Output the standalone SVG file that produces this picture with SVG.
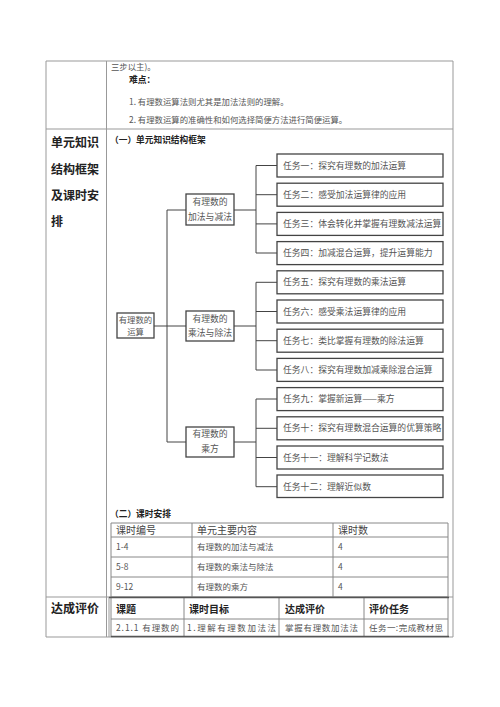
<svg xmlns="http://www.w3.org/2000/svg" width="500" height="707" viewBox="0 0 500 707">
<style>
text{font-family:"Noto Sans CJK SC","Noto Sans",sans-serif;}
.b{fill:#555;font-size:8.4px;}
.h{fill:#222;font-size:8.7px;font-weight:bold;}
.L{fill:#222;font-size:12px;font-weight:bold;}
.t{fill:#555;font-size:8.8px;}
.c{fill:#555;font-size:8.8px;text-anchor:middle;}
.th{fill:#444;font-size:10px;}
.tr{fill:#555;font-size:8.5px;}
.bh{fill:#222;font-size:10px;font-weight:bold;}
.g{stroke:#999;stroke-width:1;fill:none;}
.k{stroke:#888;stroke-width:1;fill:none;}
.box{fill:#fff;stroke:#444;stroke-width:1.3;}
.cn{stroke:#444;stroke-width:1;fill:none;}
</style>
<rect width="500" height="707" fill="#fff"/>
<g id="outer-table">
<path class="g" d="M46,61H453V637H46Z M106.5,61V637 M46,129H453 M46,597H453 M109,597V637"/>
</g>
<g id="top-text">
<text class="b" x="111" y="70">三步以主)。</text>
<text class="h" x="129" y="83">难点：</text>
<text class="b" x="129" y="105">1. 有理数运算法则尤其是加法法则的理解。</text>
<text class="b" x="129" y="123">2. 有理数运算的准确性和如何选择简便方法进行简便运算。</text>
</g>
<g id="left-labels">
<text class="L" x="51" y="147">单元知识</text>
<text class="L" x="51" y="174">结构框架</text>
<text class="L" x="51" y="200">及课时安</text>
<text class="L" x="51" y="226">排</text>
<text class="L" x="51" y="613">达成评价</text>
</g>
<text class="h" x="110" y="143">（一）单元知识结构框架</text>
<g id="connectors">
<path class="cn" d="M154,326H167 M167,210V442 M167,210H186 M167,326H186 M167,442H186"/>
<path class="cn" d="M234,210H256 M256,165.5V253H277 M256,165.5H277 M256,194.7H277 M256,223.9H277"/>
<path class="cn" d="M234,326H256 M256,282.3V370H277 M256,282.3H277 M256,311.5H277 M256,340.7H277"/>
<path class="cn" d="M234,442H256 M256,399V486.7H277 M256,399H277 M256,428.3H277 M256,457.5H277"/>
</g>
<g id="root"><rect class="box" x="117" y="313" width="37" height="25"/><text class="c" x="135.5" y="323" style="font-size:8.4px">有理数的</text><text class="c" x="135.5" y="335" style="font-size:8.4px">运算</text></g>
<g id="mid1"><rect class="box" x="186" y="194" width="48" height="31"/><text class="c" x="210" y="205">有理数的</text><text class="c" x="210" y="220">加法与减法</text></g>
<g id="mid2"><rect class="box" x="186" y="311" width="48" height="30"/><text class="c" x="210" y="322">有理数的</text><text class="c" x="210" y="336">乘法与除法</text></g>
<g id="mid3"><rect class="box" x="186" y="427" width="48" height="30"/><text class="c" x="210" y="437">有理数的</text><text class="c" x="210" y="452">乘方</text></g>
<g id="task1"><rect class="box" x="277" y="154" width="166" height="23"/><text class="t" x="283" y="168.5">任务一：探究有理数的加法运算</text></g>
<g id="task2"><rect class="box" x="277" y="183.2" width="166" height="23"/><text class="t" x="283" y="197.7">任务二：感受加法运算律的应用</text></g>
<g id="task3"><rect class="box" x="277" y="212.4" width="166" height="23"/><text class="t" x="283" y="226.9">任务三：体会转化并掌握有理数减法运算</text></g>
<g id="task4"><rect class="box" x="277" y="241.6" width="166" height="23"/><text class="t" x="283" y="256.1">任务四：加减混合运算，提升运算能力</text></g>
<g id="task5"><rect class="box" x="277" y="270.8" width="166" height="23"/><text class="t" x="283" y="285.3">任务五：探究有理数的乘法运算</text></g>
<g id="task6"><rect class="box" x="277" y="300" width="166" height="23"/><text class="t" x="283" y="314.5">任务六：感受乘法运算律的应用</text></g>
<g id="task7"><rect class="box" x="277" y="329.2" width="166" height="23"/><text class="t" x="283" y="343.7">任务七：类比掌握有理数的除法运算</text></g>
<g id="task8"><rect class="box" x="277" y="358.4" width="166" height="23"/><text class="t" x="283" y="372.9">任务八：探究有理数加减乘除混合运算</text></g>
<g id="task9"><rect class="box" x="277" y="387.6" width="166" height="23"/><text class="t" x="283" y="402.1">任务九：掌握新运算——乘方</text></g>
<g id="task10"><rect class="box" x="277" y="416.8" width="166" height="23"/><text class="t" x="283" y="431.3">任务十：探究有理数混合运算的优算策略</text></g>
<g id="task11"><rect class="box" x="277" y="446" width="166" height="23"/><text class="t" x="283" y="460.5">任务十一：理解科学记数法</text></g>
<g id="task12"><rect class="box" x="277" y="475" width="166" height="22.5"/><text class="t" x="283" y="489.5">任务十二：理解近似数</text></g>
<text class="h" x="110" y="517">（二）课时安排</text>
<g id="schedule-table">
<path class="k" d="M111,523H448V597H111Z M111,537H448 M111,557H448 M111,577H448 M192,523V597 M333,523V597"/>
<text class="th" x="116" y="534">课时编号</text>
<text class="th" x="197" y="534">单元主要内容</text>
<text class="th" x="338" y="534">课时数</text>
<text class="tr" x="116" y="550">1-4</text><text class="tr" x="197" y="550">有理数的加法与减法</text><text class="tr" x="338" y="550">4</text>
<text class="tr" x="116" y="570">5-8</text><text class="tr" x="197" y="570">有理数的乘法与除法</text><text class="tr" x="338" y="570">4</text>
<text class="tr" x="116" y="590">9-12</text><text class="tr" x="197" y="590">有理数的乘方</text><text class="tr" x="338" y="590">4</text>
</g>
<g id="eval-table">
<path class="k" d="M111,597V637 M448,597V637 M111,619H448 M184,597V637 M279,597V637 M364,597V637"/>
<path stroke="#555" stroke-width="1.5" d="M109,597.5H449 M111,636.5H449"/>
<text class="bh" x="116" y="613">课题</text>
<text class="bh" x="189" y="613">课时目标</text>
<text class="bh" x="285" y="613">达成评价</text>
<text class="bh" x="369" y="613">评价任务</text>
<text class="tr" x="116" y="631" textLength="63" lengthAdjust="spacing">2.1.1 有理数的</text>
<text class="tr" x="187" y="631" textLength="89" lengthAdjust="spacing">1.理解有理数加法法</text>
<text class="tr" x="285" y="631" textLength="73" lengthAdjust="spacing">掌握有理数加法法</text>
<text class="tr" x="369" y="631" textLength="74" lengthAdjust="spacing">任务一:完成教材思</text>
</g>
</svg>
